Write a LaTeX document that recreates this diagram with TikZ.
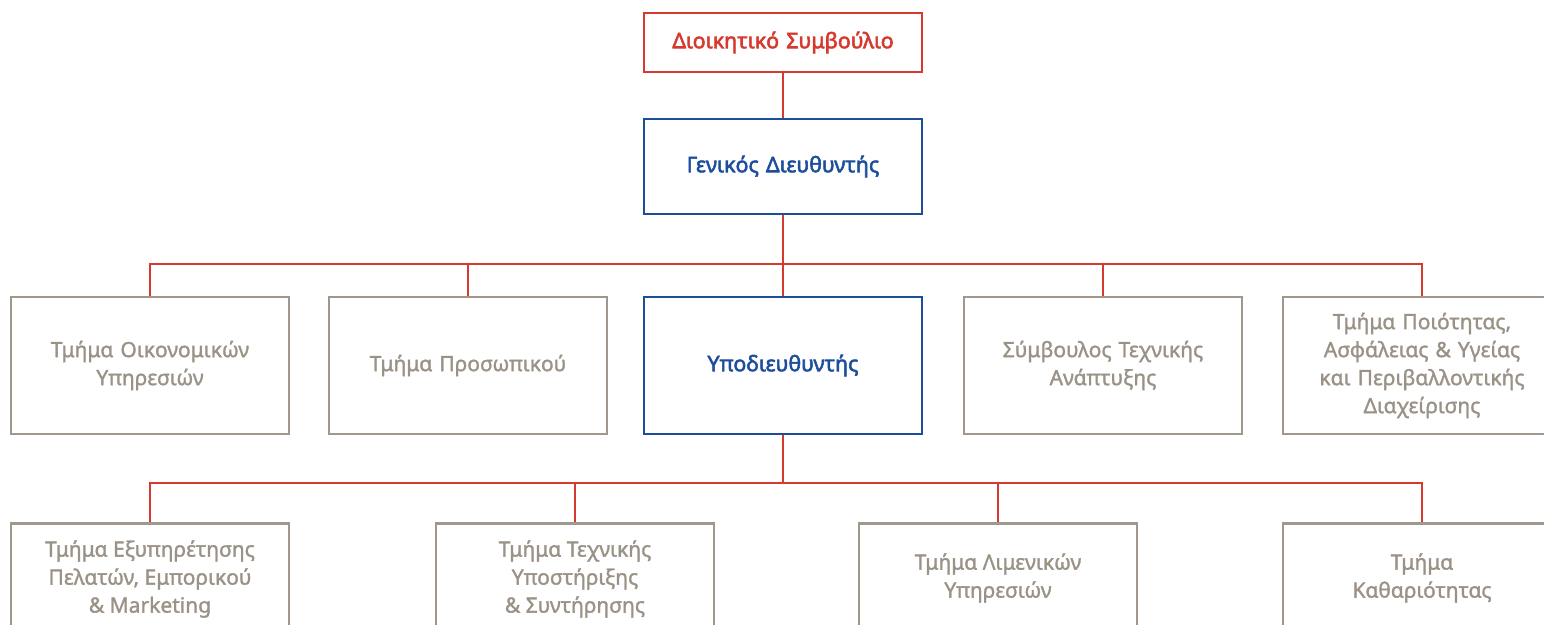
\documentclass[tikz,border=0pt]{standalone}
\usepackage{fontspec}
\setmainfont{Noto Sans}
\newfontfamily\medfont{Noto Sans}[FakeBold=1.5]
\newfontfamily\strongfont{Noto Sans}[FakeBold=2.6]
\definecolor{cred}{HTML}{D63A2F}
\definecolor{cblue}{HTML}{1D4E9B}
\definecolor{cgrey}{HTML}{A0988C}
\definecolor{cgtext}{HTML}{9A9286}
\begin{document}
\begin{tikzpicture}[x=0.5pt,y=-0.5pt,
  box/.style={draw, line width=1.35pt, rectangle, minimum width=139pt, align=center, inner sep=0pt, text width=130pt},
  redbox/.style={box, draw=cred, text=cred, font=\fontsize{10.7}{14}\selectfont\strongfont},
  bluebox/.style={box, draw=cblue, text=cblue, font=\fontsize{10.7}{14}\selectfont\strongfont},
  greybox/.style={box, draw=cgrey, text=cgtext, font=\fontsize{10.5}{14}\selectfont\medfont},
  greytext/.style={text=cgtext, font=\fontsize{10.5}{14}\selectfont\medfont, align=center},
  link/.style={draw=cred, line width=1.4pt}]
\useasboundingbox (0,0) rectangle (1544,625);
\clip (0,0) rectangle (1544,625);
% top
\node[redbox, minimum height=29.5pt] (dsb) at (783,42.5) {Διοικητικό Συμβούλιο};
\node[bluebox, minimum height=47.5pt] (gd) at (783,166.5) {Γενικός Διευθυντής};
% row 1
\node[greybox, minimum height=68.5pt] (r1) at (150,365.5) {Τμήμα Οικονομικών\\Υπηρεσιών};
\node[greybox, minimum height=68.5pt] (r2) at (468,365.5) {Τμήμα Προσωπικού};
\node[bluebox, minimum height=68.5pt] (ud) at (783,365.5) {Υποδιευθυντής};
\node[greybox, minimum height=68.5pt] (r4) at (1103,365.5) {Σύμβουλος Τεχνικής\\Ανάπτυξης};
\node[greybox, minimum height=68.5pt] (r5) at (1422,365.5) {Τμήμα Ποιότητας,\\Ασφάλειας \& Υγείας\\και Περιβαλλοντικής\\Διαχείρισης};
% row 2
\node[greybox, minimum height=56pt, anchor=north] (b1) at (150,522) {};
\node[greytext] (b1t) at (150,579) {Τμήμα Εξυπηρέτησης\\Πελατών, Εμπορικού\\\& Marketing};
\node[greybox, minimum height=56pt, anchor=north] (b2) at (575,522) {};
\node[greytext] (b2t) at (575,579) {Τμήμα Τεχνικής\\Υποστήριξης\\\& Συντήρησης};
\node[greybox, minimum height=56pt, anchor=north] (b3) at (998,522) {};
\node[greytext] (b3t) at (998,578) {Τμήμα Λιμενικών\\Υπηρεσιών};
\node[greybox, minimum height=56pt, anchor=north] (b4) at (1422,522) {};
\node[greytext] (b4t) at (1422,578) {Τμήμα\\Καθαριότητας};
% connectors
\coordinate (bus1) at (783,264);
\coordinate (bus2) at (783,483);
\draw[link] (dsb.south) -- (gd.north);
\draw[link] (gd.south) -- (bus1);
\foreach \n in {r1,r2,ud,r4,r5} \draw[link] (bus1) -| (\n.north);
\draw[link] (ud.south) -- (bus2);
\foreach \n in {b1,b2,b3,b4} \draw[link] (bus2) -| (\n.north);
\end{tikzpicture}
\end{document}
